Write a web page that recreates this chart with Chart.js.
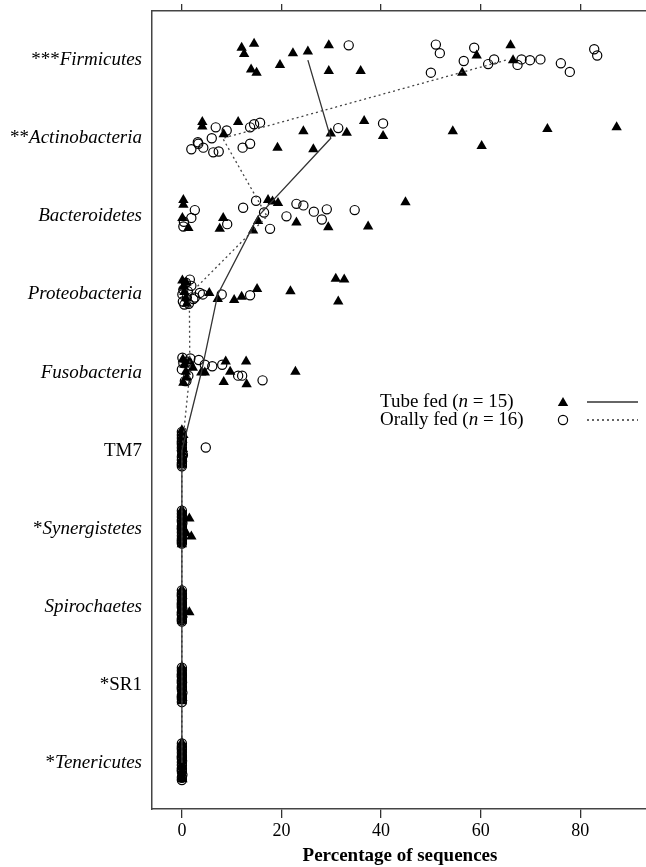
<!DOCTYPE html>
<html>
<head>
<meta charset="utf-8">
<script src="https://cdn.jsdelivr.net/npm/chart.js@4"></script>
<style>
  html, body { margin: 0; padding: 0; background: #fff; overflow: hidden; }
  canvas { display: block; }
</style>
</head>
<body>
<canvas id="c" width="648" height="867"></canvas>
<script>
// ---------------- DATA ----------------
const categoryPrefix = ['***', '**', '', '', '', '', '*', '', '*', '*'];
const categoryName = ['Firmicutes', 'Actinobacteria', 'Bacteroidetes', 'Proteobacteria', 'Fusobacteria',
  'TM7', 'Synergistetes', 'Spirochaetes', 'SR1', 'Tenericutes'];
const categoryItalic = [true, true, true, true, true, false, true, true, false, true];

const xTicks = [0, 20, 40, 60, 80];
const xAxisTitle = 'Percentage of sequences';
const tubeLabel = ['Tube fed (', 'n', ' = 15)'];
const oralLabel = ['Orally fed (', 'n', ' = 16)'];

// Percentage of sequences per animal (Tube fed, n = 15)
const tubeFed = [
  [12.0, 14.5, 12.5, 13.9, 15.0, 19.7, 22.3, 25.3, 29.5, 29.5, 35.9, 56.3, 59.2, 66.0, 66.5],
  [4.1, 4.1, 11.3, 8.4, 19.2, 24.4, 26.4, 29.9, 33.1, 36.6, 40.4, 54.4, 60.2, 73.4, 87.3],
  [0.3, 0.3, 0.1, 1.3, 8.3, 7.6, 15.3, 14.3, 17.3, 19.3, 18.2, 23.0, 29.4, 37.4, 44.9],
  [0.1, 0.3, 0.5, 0.8, 1.0, 0.9, 5.5, 7.2, 10.5, 12.0, 15.1, 21.8, 30.9, 32.6, 31.4],
  [0.2, 0.3, 0.5, 0.8, 1.0, 1.5, 2.2, 3.9, 4.6, 8.4, 8.8, 9.7, 12.9, 13.0, 22.8],
  [0, 0, 0, 0.1, 0, 0, 0.2, 0, 0, 0.1, 0, 0, 0.3, 0, 0],
  [0, 0, 0, 0.1, 0, 0, 0, 0.2, 0, 0, 0, 0, 1.5, 1.9, 0.9],
  [0, 0, 0.1, 0, 0, 0, 0, 0, 0.2, 0, 0, 0, 0, 1.5, 0],
  [0, 0, 0, 0, 0.1, 0, 0, 0, 0, 0, 0.1, 0, 0, 0, 0],
  [0, 0, 0, 0, 0, 0.1, 0, 0, 0, 0, 0, 0, 0.1, 0, 0]
];
// vertical jitter of each tube-fed point (in category units)
const tubeJitter = [
  [-0.16, -0.21, -0.08, 0.12, 0.16, 0.06, -0.09, -0.11, -0.19, 0.14, 0.14, 0.16, -0.06, -0.19, 0.0],
  [-0.21, -0.15, -0.21, -0.05, 0.12, -0.09, 0.14, -0.06, -0.07, -0.22, -0.03, -0.09, 0.10, -0.12, -0.14],
  [-0.21, -0.15, 0.02, 0.15, 0.02, 0.16, 0.06, 0.18, -0.21, -0.17, -0.19, 0.08, 0.14, 0.13, -0.18],
  [-0.18, -0.10, -0.03, 0.05, 0.12, -0.15, -0.02, 0.06, 0.07, 0.03, -0.07, -0.04, -0.20, -0.19, 0.09],
  [-0.17, 0.13, -0.10, -0.01, 0.06, -0.14, -0.06, 0.0, 0.0, 0.12, -0.14, -0.01, -0.14, 0.15, -0.01],
  [-0.26, -0.22, -0.18, -0.14, -0.10, -0.06, -0.02, 0.02, 0.06, 0.10, 0.14, 0.18, -0.20, -0.04, 0.12],
  [-0.24, -0.20, -0.16, -0.12, -0.08, -0.04, 0.0, 0.04, 0.08, 0.12, 0.16, 0.20, -0.13, 0.10, 0.06],
  [-0.22, -0.18, -0.14, -0.10, -0.06, -0.02, 0.02, 0.06, 0.10, 0.14, 0.18, -0.08, 0.04, 0.07, 0.12],
  [-0.23, -0.19, -0.15, -0.11, -0.07, -0.03, 0.01, 0.05, 0.09, 0.13, 0.17, 0.21, -0.17, 0.0, 0.11],
  [-0.26, -0.22, -0.18, -0.14, -0.10, -0.06, -0.02, 0.02, 0.06, 0.10, 0.14, 0.18, 0.21, -0.12, 0.04]
];

// Percentage of sequences per animal (Orally fed, n = 16)
const orallyFed = [
  [33.5, 51.0, 51.8, 50.0, 56.6, 58.7, 61.5, 62.7, 67.4, 68.2, 69.9, 72.0, 76.1, 77.9, 82.8, 83.4],
  [6.8, 6.0, 3.2, 3.3, 1.9, 4.3, 6.3, 7.4, 13.7, 14.5, 15.7, 12.2, 13.7, 31.4, 40.4, 9.0],
  [2.6, 1.9, 0.4, 9.1, 12.3, 14.9, 17.7, 21.0, 23.0, 24.4, 26.5, 29.1, 28.1, 34.7, 0.3, 16.5],
  [0.1, 0.2, 0.3, 0.5, 0.8, 1.0, 1.2, 1.4, 1.6, 1.9, 2.3, 2.6, 3.6, 4.2, 8.0, 13.7],
  [0, 0.1, 0.3, 0.6, 0.9, 1.1, 1.3, 1.5, 1.7, 3.4, 4.6, 6.1, 8.1, 11.3, 12.1, 16.2],
  [0, 0, 0, 0, 0, 0, 0, 0.1, 0, 0, 0, 0, 0, 0.2, 0, 4.8],
  [0, 0, 0, 0, 0.1, 0, 0, 0, 0, 0, 0, 0, 0, 0.1, 0, 0],
  [0, 0, 0, 0, 0, 0, 0.1, 0, 0, 0, 0, 0, 0, 0, 0, 0],
  [0, 0, 0, 0, 0, 0, 0, 0, 0.1, 0, 0, 0, 0, 0, 0, 0],
  [0, 0, 0, 0, 0, 0, 0, 0, 0, 0, 0.1, 0, 0, 0, 0, 0]
];
// vertical jitter of each orally-fed point (in category units)
const oralJitter = [
  [-0.19, -0.20, -0.09, 0.16, 0.01, -0.16, 0.05, -0.01, 0.06, -0.01, 0.0, -0.01, 0.04, 0.15, -0.14, -0.06],
  [-0.14, 0.0, 0.05, 0.07, 0.14, 0.12, 0.18, 0.17, -0.14, -0.18, -0.20, 0.12, 0.07, -0.13, -0.19, -0.10],
  [-0.08, 0.02, 0.07, 0.10, -0.11, -0.20, 0.16, 0.0, -0.16, -0.14, -0.06, -0.09, 0.04, -0.08, 0.13, -0.05],
  [0.0, 0.09, -0.06, 0.13, -0.15, 0.04, -0.04, 0.12, -0.19, -0.11, 0.06, 0.04, -0.02, 0.0, 0.0, 0.01],
  [-0.04, -0.19, -0.12, 0.11, 0.11, -0.14, 0.04, -0.09, -0.18, -0.16, -0.10, -0.08, -0.10, 0.04, 0.04, 0.10],
  [-0.24, -0.20, -0.16, -0.12, -0.08, -0.04, 0.0, 0.04, 0.08, 0.12, 0.16, 0.20, -0.10, 0.06, 0.18, -0.04],
  [-0.23, -0.19, -0.15, -0.11, -0.07, -0.03, 0.01, 0.05, 0.09, 0.13, 0.17, 0.19, -0.09, 0.03, 0.15, -0.01],
  [-0.21, -0.17, -0.13, -0.09, -0.05, -0.01, 0.03, 0.07, 0.11, 0.15, 0.19, -0.15, -0.03, 0.09, 0.17, 0.01],
  [-0.22, -0.18, -0.14, -0.10, -0.06, -0.02, 0.02, 0.06, 0.10, 0.14, 0.18, 0.22, -0.12, 0.04, 0.16, -0.04],
  [-0.25, -0.21, -0.17, -0.13, -0.09, -0.05, -0.01, 0.03, 0.07, 0.11, 0.15, 0.19, 0.22, -0.07, 0.09, -0.19]
];

// ---------------- BUILD ----------------
function median(arr) {
  const s = arr.slice().sort((a, b) => a - b);
  const m = Math.floor(s.length / 2);
  return s.length % 2 ? s[m] : (s[m - 1] + s[m]) / 2;
}
const tubePoints = [], oralPoints = [], tubeMedian = [], oralMedian = [];
categoryName.forEach((c, i) => {
  tubeFed[i].forEach((v, k) => tubePoints.push({ x: v, y: i + tubeJitter[i][k] }));
  orallyFed[i].forEach((v, k) => oralPoints.push({ x: v, y: i + oralJitter[i][k] }));
  tubeMedian.push({ x: median(tubeFed[i]), y: i });
  oralMedian.push({ x: median(orallyFed[i]), y: i });
});

const SERIF = '"Liberation Serif", "DejaVu Serif", serif';

const labelPlugin = {
  id: 'labels',
  afterDraw(chart) {
    const ctx = chart.ctx;
    const ys = chart.scales.y;
    ctx.save();
    ctx.fillStyle = '#000';
    ctx.textBaseline = 'middle';
    ctx.textAlign = 'left';
    const right = chart.chartArea.left - 10;
    categoryName.forEach((name, i) => {
      const y = ys.getPixelForValue(i);
      const nameFont = (categoryItalic[i] ? 'italic ' : '') + '19px ' + SERIF;
      ctx.font = nameFont;
      const w2 = ctx.measureText(name).width;
      ctx.font = '19px ' + SERIF;
      const w1 = ctx.measureText(categoryPrefix[i]).width;
      const x0 = right - w2 - w1;
      ctx.fillText(categoryPrefix[i], x0, y);
      ctx.font = nameFont;
      ctx.fillText(name, x0 + w1, y);
    });

    // legend
    const rows = [tubeLabel, oralLabel];
    const ry = [402, 420];
    rows.forEach((parts, r) => {
      let x = 380;
      parts.forEach((p, k) => {
        ctx.font = (k === 1 ? 'italic ' : '') + '19px ' + SERIF;
        ctx.fillText(p, x, ry[r]);
        x += ctx.measureText(p).width;
      });
    });
    // legend markers
    const tx = 563, ty = 403, tr = 6;
    ctx.beginPath();
    ctx.moveTo(tx, ty - tr);
    ctx.lineTo(tx + tr * Math.sin(2 * Math.PI / 3), ty - tr * Math.cos(2 * Math.PI / 3));
    ctx.lineTo(tx + tr * Math.sin(4 * Math.PI / 3), ty - tr * Math.cos(4 * Math.PI / 3));
    ctx.closePath();
    ctx.fillStyle = '#000';
    ctx.fill();
    ctx.beginPath();
    ctx.arc(563, 420, 4.6, 0, Math.PI * 2);
    ctx.lineWidth = 1.2;
    ctx.strokeStyle = '#000';
    ctx.stroke();
    ctx.lineWidth = 1.3;
    ctx.strokeStyle = '#333';
    ctx.beginPath(); ctx.moveTo(587, 402); ctx.lineTo(638, 402); ctx.stroke();
    ctx.setLineDash([2, 3]);
    ctx.beginPath(); ctx.moveTo(587, 420); ctx.lineTo(638, 420); ctx.stroke();
    ctx.restore();
  }
};

new Chart(document.getElementById('c'), {
  type: 'scatter',
  data: {
    datasets: [
      { label: 'Tube fed', data: tubePoints, pointStyle: 'triangle', pointRadius: 6,
        backgroundColor: '#000', borderColor: '#000', borderWidth: 0, order: 2 },
      { label: 'Orally fed', data: oralPoints, pointStyle: 'circle', pointRadius: 4.6,
        backgroundColor: 'rgba(0,0,0,0)', borderColor: '#000', borderWidth: 1.2, order: 3 },
      { type: 'line', label: 'Tube median', data: tubeMedian, borderColor: '#333', borderWidth: 1.3,
        pointRadius: 0, fill: false, tension: 0, order: 1 },
      { type: 'line', label: 'Oral median', data: oralMedian, borderColor: '#444', borderWidth: 1.3,
        borderDash: [2, 3], pointRadius: 0, fill: false, tension: 0, order: 1 }
    ]
  },
  options: {
    responsive: false,
    animation: false,
    devicePixelRatio: 1,
    layout: { padding: 0, autoPadding: false },
    plugins: { legend: { display: false }, tooltip: { enabled: false } },
    scales: {
      x: {
        type: 'linear', position: 'bottom', min: -6, max: 93.6,
        afterBuildTicks: s => { s.ticks = xTicks.map(v => ({ value: v })); },
        ticks: { color: '#000', font: { family: SERIF, size: 18 }, padding: 2, maxRotation: 0 },
        grid: { drawOnChartArea: false, drawTicks: true, tickLength: 9, color: '#333', lineWidth: 1.3 },
        border: { display: true, color: '#444', width: 1.5 },
        title: { display: true, text: xAxisTitle, color: '#000',
          font: { family: SERIF, size: 19, weight: 'bold' }, padding: { top: 0, bottom: 0 } },
        afterFit: s => { s.height = 58; }
      },
      x2: {
        type: 'linear', position: 'top', min: -6, max: 93.6,
        afterBuildTicks: s => { s.ticks = xTicks.map(v => ({ value: v })); },
        ticks: { display: false },
        grid: { drawOnChartArea: false, drawTicks: true, tickLength: 7, color: '#333', lineWidth: 1.3 },
        border: { display: true, color: '#444', width: 1.5 },
        afterFit: s => { s.height = 11; }
      },
      y: {
        type: 'linear', position: 'left', min: -0.63, max: 9.59, reverse: true,
        ticks: { display: false },
        grid: { display: false },
        border: { display: true, color: '#444', width: 1.5 },
        afterFit: s => { s.width = 152; }
      }
    }
  },
  plugins: [labelPlugin]
});
</script>
</body>
</html>
